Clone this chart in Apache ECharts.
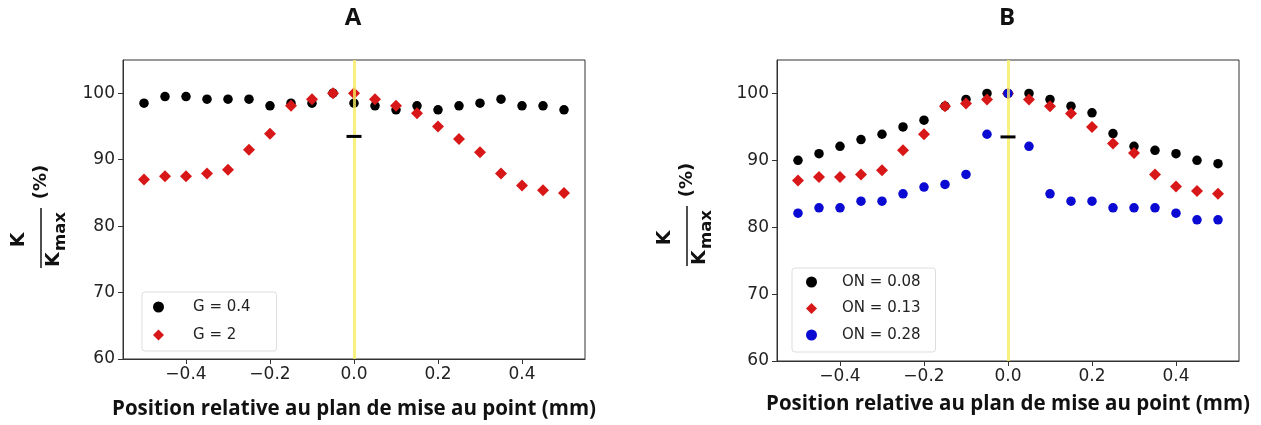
<!DOCTYPE html>
<html>
<head>
<meta charset="utf-8">
<script src="https://cdn.jsdelivr.net/npm/echarts@6/dist/echarts.min.js"></script>
<style>
html,body{margin:0;padding:0;background:#fff;}
#chart{width:1261px;height:425px;}
</style>
</head>
<body>
<div id="chart"></div>
<script>
// ---- data ----
const positions = [-0.5,-0.45,-0.4,-0.35,-0.3,-0.25,-0.2,-0.15,-0.1,-0.05,0,0.05,0.1,0.15,0.2,0.25,0.3,0.35,0.4,0.45,0.5];
const gSmall  = [98.5,99.5,99.5,99.1,99.1,99.1,98.1,98.5,98.5,100,98.5,98.1,97.5,98.1,97.5,98.1,98.5,99.1,98.1,98.1,97.5];
const gLarge  = [87.0,87.5,87.5,87.9,88.5,91.5,93.9,98.1,99.1,100,100,99.1,98.1,97.0,95.0,93.1,91.1,87.9,86.1,85.4,85.0];
const on008   = [90.0,91.0,92.1,93.1,93.9,95.0,96.0,98.1,99.1,100,100,100,99.1,98.1,97.1,94.0,92.1,91.5,91.0,90.0,89.5];
const on013   = [87.0,87.5,87.5,87.9,88.5,91.5,93.9,98.1,98.5,99.1,100,99.1,98.1,97.0,95.0,92.5,91.1,87.9,86.1,85.4,85.0];
const on028   = [82.1,82.9,82.9,83.9,83.9,85.0,86.0,86.4,87.9,93.9,100,92.1,85.0,83.9,83.9,82.9,82.9,82.9,82.1,81.1,81.1];
const focusPosition = [0];
const markPosition = [0];
const markValue = [93.5];
const xTicks = [-0.4,-0.2,0,0.2,0.4];
const xTickLabels = ['\u22120.4','\u22120.2','0.0','0.2','0.4'];
const yTicks = [60,70,80,90,100];
const yTickLabels = ['60','70','80','90','100'];
const xRange = [-0.55, 0.55];
const yRange = [60, 105];
const panelTitles = ['A','B'];
const xTitle = 'Position relative au plan de mise au point (mm)';
const namesA = ['G = 0.4','G = 2'];
const namesB = ['ON = 0.08','ON = 0.13','ON = 0.28'];

// ---- styles ----
const BLACK = '#000000', RED = '#d81818', BLUE = '#0a0ad2';
const AXC = '#333333';
const TICKFONT = 'DejaVu Sans';

function pairs(xs, ys){ return xs.map((x,i)=>[x, ys[i]]); }

function xAxisFor(idx, gap){
  return {
    type:'value', gridIndex: idx, min: xRange[0], max: xRange[1],
    name: xTitle, nameLocation:'middle', nameGap: gap,
    nameTextStyle:{fontFamily:'Open Sans', fontWeight:'bold', fontSize:20.5, color:'#111'},
    axisLine:{show:true, onZero:false, lineStyle:{color:AXC, width:1}},
    axisTick:{show:true, inside:false, length:5, lineStyle:{color:AXC}, customValues: xTicks},
    axisLabel:{show:true, margin:7, fontFamily:TICKFONT, fontSize:17, color:'#222',
      customValues: xTicks,
      formatter:(v)=>{ const i = xTicks.findIndex(t=>Math.abs(t-v)<1e-9); return i>=0 ? xTickLabels[i] : ''; }},
    splitLine:{show:false}
  };
}
function yAxisFor(idx){
  return {
    type:'value', gridIndex: idx, min: yRange[0], max: yRange[1],
    axisLine:{show:true, onZero:false, lineStyle:{color:AXC, width:1}},
    axisTick:{show:true, inside:false, length:5, lineStyle:{color:AXC}, customValues: yTicks},
    axisLabel:{show:true, margin:8, fontFamily:TICKFONT, fontSize:17, color:'#222',
      customValues: yTicks,
      formatter:(v)=>{ const i = yTicks.indexOf(v); return i>=0 ? yTickLabels[i] : ''; }},
    splitLine:{show:false}
  };
}

function scatter(name, idx, ys, color, symbol, size){
  return {type:'scatter', name, xAxisIndex: idx, yAxisIndex: idx, data: pairs(positions, ys),
    symbol, symbolSize: size, itemStyle:{color, opacity:1}, z:2, silent:true};
}
function focusLine(idx){
  return {type:'scatter', name:'focus'+idx, xAxisIndex: idx, yAxisIndex: idx, data: [], z:3, silent:true,
    markLine:{silent:true, symbol:['none','none'], label:{show:false}, z:3,
      lineStyle:{color:'rgba(246,238,95,0.8)', width:3, type:'solid'},
      data: focusPosition.map(p=>({xAxis:p}))}};
}
function dash(idx){
  return {type:'scatter', name:'mark'+idx, xAxisIndex: idx, yAxisIndex: idx, data: pairs(markPosition, markValue),
    symbol:'rect', symbolSize:[15,3], itemStyle:{color:BLACK, opacity:1}, z:10, silent:true};
}

function yLabel(cx, cy){
  const f = 'DejaVu Sans';
  return {type:'group', x: cx, y: cy, rotation: Math.PI/2, children:[
    {type:'text', style:{text:'K', x:-2, y:-12, fontFamily:f, fontWeight:'bold', fontSize:19, fill:'#111', align:'center', verticalAlign:'bottom'}},
    {type:'rect', shape:{x:-30, y:-0.8, width:60, height:1.6}, style:{fill:'#222'}},
    {type:'text', style:{text:'K', x:-29, y:23, fontFamily:f, fontWeight:'bold', fontSize:19, fill:'#111', align:'left', verticalAlign:'bottom'}},
    {type:'text', style:{text:'max', x:-13, y:28, fontFamily:f, fontWeight:'bold', fontSize:16.5, fill:'#111', align:'left', verticalAlign:'bottom'}},
    {type:'text', style:{text:'(%)', x:56, y:0, fontFamily:f, fontWeight:'bold', fontSize:18, fill:'#111', align:'center', verticalAlign:'middle'}}
  ]};
}

const chart = echarts.init(document.getElementById('chart'), null, {renderer:'canvas'});
chart.setOption({
  animation:false,
  backgroundColor:'#ffffff',
  title:[
    {text: panelTitles[0], left:353, textAlign:'center', top:6, padding:0, textStyle:{fontFamily:'Open Sans', fontWeight:'bold', fontSize:24, color:'#111'}},
    {text: panelTitles[1], left:1007, textAlign:'center', top:6, padding:0, textStyle:{fontFamily:'Open Sans', fontWeight:'bold', fontSize:24, color:'#111'}}
  ],
  grid:[
    {left:123, top:60, width:462, height:301, show:true, borderColor:AXC, borderWidth:1, backgroundColor:'#fff'},
    {left:777, top:60, width:462, height:301, show:true, borderColor:AXC, borderWidth:1, backgroundColor:'#fff'}
  ],
  xAxis:[xAxisFor(0, 40), xAxisFor(1, 33)],
  yAxis:[yAxisFor(0), yAxisFor(1)],
  legend:[
    {data:[{name:namesA[0], icon:'circle'},{name:namesA[1], icon:'diamond'}],
     orient:'vertical', left:142, top:292, padding:[6,26,7,11], itemGap:10, itemWidth:11, itemHeight:11,
     borderColor:'#dddddd', borderWidth:1, borderRadius:3, backgroundColor:'#ffffff',
     textStyle:{fontFamily:TICKFONT, fontSize:15, color:'#222', lineHeight:18, padding:[0,0,0,24]}},
    {data:[{name:namesB[0], icon:'circle'},{name:namesB[1], icon:'diamond'},{name:namesB[2], icon:'circle'}],
     orient:'vertical', left:792, top:268, padding:[5,15,8,14], itemGap:8.5, itemWidth:11, itemHeight:11,
     borderColor:'#dddddd', borderWidth:1, borderRadius:3, backgroundColor:'#ffffff',
     textStyle:{fontFamily:TICKFONT, fontSize:15, color:'#222', lineHeight:18, padding:[0,0,0,20]}}
  ],
  graphic:[yLabel(41, 238), yLabel(687, 236)],
  series:[
    scatter(namesA[0], 0, gSmall, BLACK, 'circle', 9.5),
    scatter(namesA[1], 0, gLarge, RED, 'diamond', 12),
    focusLine(0), dash(0),
    scatter(namesB[0], 1, on008, BLACK, 'circle', 9.5),
    scatter(namesB[1], 1, on013, RED, 'diamond', 12),
    scatter(namesB[2], 1, on028, BLUE, 'circle', 9.5),
    focusLine(1), dash(1)
  ]
});
</script>
</body>
</html>
